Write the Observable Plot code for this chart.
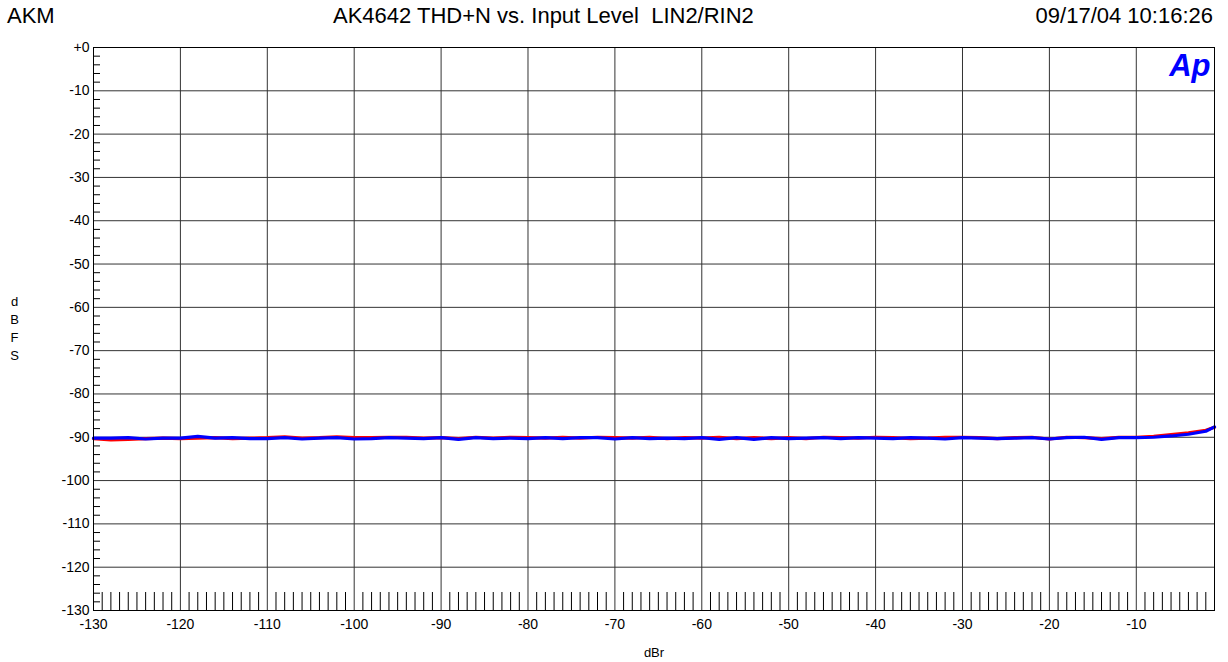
<!DOCTYPE html>
<html>
<head>
<meta charset="utf-8">
<script src="https://cdn.jsdelivr.net/npm/d3@7"></script>
<script src="https://cdn.jsdelivr.net/npm/@observablehq/plot@0.6"></script>
<style>
  html, body { margin: 0; padding: 0; background: #fff; }
  #wrap { position: relative; width: 1228px; height: 662px; font-family: "Liberation Sans", Arial, sans-serif; color: #000; }
  #header { position: relative; height: 30px; width: 1228px; font-size: 22px; line-height: 22px; }
  #header span { position: absolute; top: 5px; white-space: pre; }
  #chart svg { display: block; }
</style>
</head>
<body>
<div id="wrap">
  <div id="header">
    <span id="left" style="left:7px">AKM</span>
    <span id="mid" style="left:333px">AK4642 THD+N vs. Input Level  LIN2/RIN2</span>
    <span id="right" style="right:15px">09/17/04 10:16:26</span>
  </div>
  <div id="chart"></div>
</div>
<script>
// ---- data ----
const inputLevel = [-130,-128,-126,-124,-122,-120,-118,-116,-114,-112,-110,-108,-106,-104,-102,-100,
  -98,-96,-94,-92,-90,-88,-86,-84,-82,-80,-78,-76,-74,-72,-70,-68,-66,-64,-62,-60,-58,-56,-54,-52,-50,
  -48,-46,-44,-42,-40,-38,-36,-34,-32,-30,-28,-26,-24,-22,-20,-18,-16,-14,-12,-10,-8,-6,-4,-2,-1];

const redSeries = [-90.3,-90.6,-90.5,-90.3,-90.2,-90.3,-90.2,-90.1,-90.3,-90.2,-90.1,-89.9,-90.2,-90.1,-89.9,-90.1,
  -90.1,-90.0,-90.0,-90.2,-90.1,-90.3,-90.0,-90.2,-90.0,-90.1,-90.2,-90.0,-90.2,-90.0,-90.1,-90.2,-90.0,-90.3,-90.1,-90.2,-90.0,-90.3,-90.1,-90.3,-90.1,
  -90.3,-90.0,-90.1,-90.2,-90.0,-90.1,-90.3,-90.2,-90.0,-90.0,-90.1,-90.3,-90.1,-90.0,-90.4,-90.0,-90.1,-90.3,-90.0,-90.0,-89.8,-89.4,-89.0,-88.4,-87.7];

const blueSeries = [-90.2,-90.2,-90.1,-90.4,-90.2,-90.2,-89.8,-90.2,-90.1,-90.3,-90.3,-90.1,-90.4,-90.2,-90.1,-90.4,
  -90.3,-90.1,-90.2,-90.3,-90.1,-90.5,-90.1,-90.3,-90.2,-90.3,-90.1,-90.3,-90.1,-90.1,-90.4,-90.1,-90.3,-90.2,-90.3,-90.1,-90.5,-90.1,-90.5,-90.1,-90.3,
  -90.2,-90.1,-90.3,-90.1,-90.2,-90.3,-90.1,-90.2,-90.4,-90.1,-90.2,-90.3,-90.2,-90.1,-90.4,-90.1,-90.0,-90.5,-90.1,-90.1,-90.0,-89.7,-89.3,-88.6,-87.6];

const xTicks = [-130,-120,-110,-100,-90,-80,-70,-60,-50,-40,-30,-20,-10];
const yTicks = [0,-10,-20,-30,-40,-50,-60,-70,-80,-90,-100,-110,-120,-130];
const xMinor = d3.range(-129, -1, 1).filter(v => v % 10 !== 0);
const yMinor = d3.range(-128, 0, 2).filter(v => v % 10 !== 0);
const yTickLabels = yTicks.map(v => v === 0 ? "+0" : String(v));

const red = inputLevel.map((x, i) => ({x, y: redSeries[i]}));
const blue = inputLevel.map((x, i) => ({x, y: blueSeries[i]}));

const W = 1228, H = 632;
const mL = 93, mR = 14, mT = 17, mB = 52;
const innerW = W - mL - mR, innerH = H - mT - mB;

const chart = Plot.plot({
  width: W, height: H,
  marginLeft: mL, marginRight: mR, marginTop: mT, marginBottom: mB,
  style: {fontFamily: "'Liberation Sans', Arial, sans-serif", fontSize: "14px", color: "#000", background: "#fff", overflow: "visible"},
  x: {domain: [-130, -1]},
  y: {domain: [-130, 0]},
  marks: [
    Plot.gridX(xTicks, {stroke: "#333", strokeOpacity: 1}),
    Plot.gridY(yTicks, {stroke: "#333", strokeOpacity: 1}),
    Plot.ruleY(yMinor, {insetRight: innerW - 7, stroke: "#000"}),
    Plot.ruleX(xMinor, {insetTop: innerH - 18, stroke: "#000"}),
    Plot.line(red, {x: "x", y: "y", stroke: "#ff0000", strokeWidth: 3.2}),
    Plot.line(blue, {x: "x", y: "y", stroke: "#0000ff", strokeWidth: 3.2}),
    Plot.frame({stroke: "#000"}),
    Plot.axisX(xTicks, {tickSize: 0, tickPadding: 9, label: null, tickFormat: d => String(d), fontSize: 14}),
    Plot.axisY(yTicks, {tickSize: 0, tickPadding: 4, label: null, tickFormat: d => yTickLabels[yTicks.indexOf(d)], fontSize: 14}),
    Plot.text(["dBr"], {frameAnchor: "bottom", dy: 42, lineAnchor: "middle", fontSize: 13}),
    Plot.text(["d\nB\nF\nS"], {frameAnchor: "left", dx: -79, dy: -2, fontSize: 13, lineHeight: 1.4, textAnchor: "middle"}),
    Plot.text(["Ap"], {frameAnchor: "top-right", dx: -4, dy: 6, lineAnchor: "top", textAnchor: "end", fontSize: 31, fontWeight: "bold", fontStyle: "italic", fill: "#0000ff", letterSpacing: -1})
  ]
});
document.getElementById("chart").appendChild(chart);
</script>
</body>
</html>
